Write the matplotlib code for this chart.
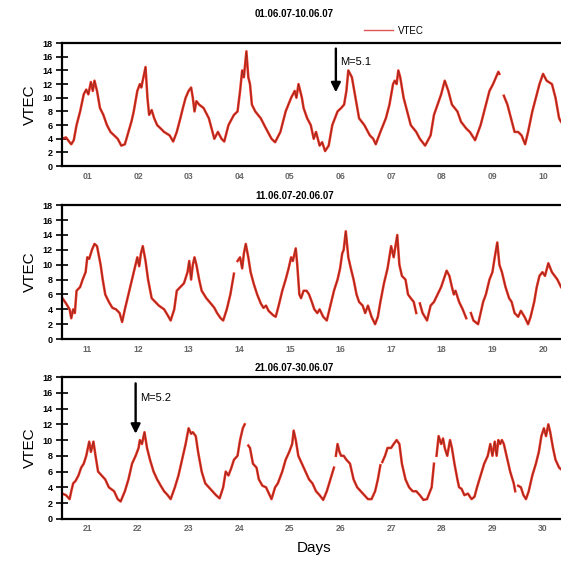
import numpy as np
import matplotlib
matplotlib.use("Agg")
import matplotlib.pyplot as plt

plt.rcParams['font.family'] = ['Liberation Sans', 'DejaVu Sans']

nan = np.nan

# hours since the start of each 10-day window, VTEC (TECU); nan = data gap
p1_hours = [0, 1.9, 3.6, 4.4, 5.6, 6.9, 8.6, 10.3, 11.5, 12.5, 13.7, 14.6, 15.4, 16.6, 18.0, 19.6,
            21.3, 23.0, 24.7, 26.4, 28.1, 29.8, 31.5, 32.9, 34.0, 35.7, 36.9, 37.6, 38.6, 39.6,
            40.5, 41.3, 42.5, 43.7, 45.1, 46.8, 48.4, 51.0, 52.7, 54.4, 56.1, 57.3, 58.6, 60.0,
            61.2, 62.0, 62.8, 63.7, 65.0, 67.1, 69.6, 71.3, 72.2, 73.9, 75.6, 76.9, 78.9, 81.5,
            83.2, 84.4, 85.4, 86.2, 87.4, 88.3, 89.1, 90.0, 91.6, 94.2, 96.7, 99.3, 101.0, 103.5,
            106.0, 108.6, 110.3, 111.1, 112.1, 113.7, 114.5, 116.2, 117.9, 119.3, 120.4, 122.1,
            123.3, 124.7, 126.4, 128.1, 130.6, 132.3, 133.7, 134.8, 135.7, 137.4, 139.1, 140.8,
            143.3, 145.9, 147.5, 148.7, 150.9, 153.5, 155.2, 156.9, 157.7, 158.6, 159.4, 160.3,
            161.9, 163.6, 165.3, 167.9, 169.6, 172.1, 174.7, 176.3, 178.0, 179.7, 181.4, 183.1,
            184.8, 187.4, 189.1, 191.6, 193.3, 195.8, 198.4, 200.1, 202.6, 204.3, 206.8, 207.3,
            207.8, 209.4, 211.1, 212.8, 214.5, 216.2, 217.8, 219.5, 220.9, 222.9, 224.6, 226.3,
            228.0, 229.7, 232.2, 233.9, 235.6, 236.5]
p1_vtec = [4.0, 4.2, 3.5, 3.2, 3.8, 6, 8, 10.5, 11.2, 10.5, 12.3, 11, 12.5, 11, 8.5, 7.5,
           6, 5, 4.5, 4, 3, 3.2, 5, 6.5, 8, 11, 12, 11.5, 13, 14.5,
           10, 7.5, 8.2, 7, 6, 5.5, 5, 4.5, 3.6, 5, 7, 8.5, 10, 11,
           11.5, 10, 8, 9.5, 9, 8.5, 7, 5, 4, 5, 4, 3.6, 6, 7.5,
           8, 11, 14, 13, 16.8, 13, 12, 9, 8, 7, 5.5, 4, 3.5, 5,
           8, 10, 11, 10, 12, 10, 8.5, 7, 6, 4, 5, 3,
           3.5, 2.2, 3, 6, 8, 8.5, 9, 11, 14, 13, 10, 7,
           6, 4.5, 4, 3.2, 5, 7, 9, 12, 12.5, 12, 14, 13,
           10, 8, 6, 5, 4, 3, 4.5, 7.5, 9, 10.5, 12.5, 11,
           9, 8, 6.5, 5.5, 5, 3.8, 6, 8, 11, 12, 13.8, 13.5,
           nan, 10.3, 9, 7, 5, 5, 4.5, 3.2, 5, 8, 10, 12,
           13.5, 12.5, 12, 10, 7, 6.5]

p2_hours = [0.2, 1.9, 3.6, 4.4, 5.3, 6.1, 6.9, 8.6, 9.8, 11.2, 12.0, 12.9, 14.2, 15.4, 16.6,
            18.3, 19.3, 20.5, 22.2, 23.9, 25.6, 27.3, 28.5, 29.8, 31.5, 33.2, 34.9, 35.7, 36.6,
            37.4, 38.3, 39.6, 40.8, 42.5, 44.2, 45.9, 48.4, 50.1, 51.5, 53.2, 54.4, 56.1, 57.8,
            59.5, 60.3, 61.2, 62.0, 62.8, 63.7, 65.0, 66.2, 68.4, 70.5, 72.2, 73.5, 75.2, 76.4,
            78.1, 79.8, 81.0, 81.5, 82.5, 83.2, 84.4, 85.4, 86.2, 87.1, 88.3, 89.4, 90.8, 92.5,
            94.2, 95.5, 96.7, 97.9, 100.1, 101.3, 102.7, 104.4, 106.0, 107.4, 108.6, 109.4,
            110.8, 111.5, 112.5, 113.3, 114.5, 115.9, 117.1, 118.4, 119.6, 121.0, 122.1, 123.8,
            125.5, 127.2, 128.9, 130.6, 131.8, 132.8, 133.5, 134.5, 135.7, 136.9, 138.2, 139.6,
            140.8, 142.5, 143.7, 145.0, 146.7, 148.4, 149.7, 150.9, 152.6, 154.3, 156.0, 157.2,
            158.9, 159.9, 161.1, 162.8, 164.0, 165.3, 166.7, 167.9, 168.8, 169.6, 170.9, 173.0,
            174.7, 176.3, 178.0, 179.7, 180.9, 182.3, 183.6, 184.8, 185.7, 186.5, 188.2, 189.9,
            191.6, 192.6, 193.8, 195.0, 197.2, 198.4, 199.6, 200.9, 202.6, 204.0, 205.1, 206.3,
            207.3, 208.5, 210.2, 211.9, 213.1, 214.5, 216.2, 217.5, 219.2, 220.9, 222.1, 223.8,
            225.0, 226.3, 227.7, 228.9, 230.5, 232.2, 234.8, 236.5]
p2_vtec = [5.5, 4.8, 4, 2.8, 4, 3.5, 6.5, 7, 8, 9, 11, 10.8, 12, 12.8, 12.5,
           10, 8, 6, 5, 4.2, 4, 3.5, 2.3, 4, 6, 8, 10, 11, 9.8,
           11.5, 12.5, 10.5, 8, 5.5, 5, 4.5, 4, 3.2, 2.5, 4, 6.5, 7, 7.5,
           9, 10.5, 8, 10, 11, 10, 8, 6.5, 5.5, 4.8, 4.2, 3.5, 2.8, 2.5,
           4, 6, 8, 8.8, nan, 10.5, 11, 9.5, 11.5, 12.8, 11, 9, 7.5, 6,
           4.8, 4.2, 4.5, 3.8, 3.2, 3, 4.5, 6.5, 8, 9.5, 11, 10.5,
           12.2, 10, 6, 5.5, 6.5, 6.5, 6, 5, 4, 3.5, 4, 3,
           2.5, 4.5, 6.5, 8, 9.5, 11.5, 12, 14.5, 11, 9.5, 8, 6,
           5, 4.5, 3.5, 4.5, 3, 2, 3, 5, 7.5, 9.5, 12.5, 11,
           14, 10, 8.5, 8, 6, 5.5, 5, 3.5, nan, 4.8, 3.5, 2.5,
           4.5, 5, 6, 7, 8, 9.2, 8.5, 7, 6, 6.5, 5, 4,
           2.8, nan, 3.5, 2.5, 2, 3.5, 5, 6, 8, 9, 11, 13,
           10, 9, 7, 5.5, 5, 3.5, 3, 3.8, 3, 2, 3, 5,
           7, 8.5, 9, 8.5, 10.2, 9, 8, 7]

p3_hours = [0.2, 1.9, 3.6, 4.4, 5.3, 6.4, 7.8, 9.1, 10.3, 11.5, 12.9, 13.7, 14.9, 15.9, 17.1,
            18.8, 20.5, 22.2, 24.7, 26.4, 27.8, 29.8, 31.5, 33.2, 34.9, 36.3, 36.9, 37.9, 39.1,
            40.3, 41.7, 43.4, 45.1, 46.8, 48.4, 50.1, 51.5, 53.5, 55.2, 56.9, 58.6, 60.0, 61.2,
            62.0, 63.4, 64.5, 66.2, 67.9, 69.6, 71.3, 73.0, 74.7, 76.4, 77.6, 78.9, 80.3, 81.5,
            83.2, 84.4, 85.7, 86.6, 87.5, 88.3, 89.1, 90.5, 92.2, 93.3, 95.0, 96.7, 98.4, 99.3,
            101.0, 102.3, 104.4, 106.0, 107.7, 109.1, 109.8, 110.8, 112.0, 113.7, 115.4, 117.1,
            118.7, 120.4, 122.1, 123.8, 125.5, 127.2, 128.9, 129.5, 129.8, 130.6, 131.5, 132.3,
            133.5, 134.8, 136.5, 138.2, 139.9, 141.6, 143.3, 145.0, 146.7, 148.4, 149.7, 150.9,
            151.4, 151.8, 153.1, 154.3, 156.0, 157.2, 158.6, 159.9, 161.1, 162.8, 164.5, 166.2,
            167.9, 169.6, 171.3, 173.0, 175.2, 176.3, 176.9, 177.5, 178.5, 179.7, 180.6, 181.4,
            182.6, 183.9, 184.8, 186.0, 187.4, 188.2, 189.4, 190.7, 192.4, 194.1, 195.5, 196.7,
            198.4, 200.1, 201.8, 203.0, 204.0, 205.1, 206.0, 206.8, 207.7, 208.5, 209.4, 210.7,
            212.4, 214.1, 214.8, 215.5, 216.2, 217.5, 218.7, 219.9, 221.2, 222.9, 224.6, 226.0,
            227.2, 228.4, 229.4, 230.5, 231.4, 232.7, 233.9, 235.6, 236.5]
p3_vtec = [3.2, 3, 2.5, 3.5, 4.5, 4.8, 5.5, 6.5, 7, 8, 9.8, 8.5, 9.8, 8, 6,
           5.5, 5, 4, 3.5, 2.5, 2.2, 3.5, 5, 7, 8, 9, 10, 9.5, 11,
           9, 7.5, 6, 5, 4.2, 3.5, 3, 2.5, 4, 5.5, 7.5, 9.5, 11.5, 10.8,
           11, 10.5, 8.5, 6, 4.5, 4, 3.5, 3, 2.6, 4, 6, 5.5, 6.5, 7.5,
           8, 10, 11.5, 12, nan, 9.3, 9, 7, 6.5, 5, 4.2, 4, 3, 2.5,
           4, 4.5, 6, 7.5, 8.5, 9.5, 11.2, 10, 8, 7, 6, 5,
           4.5, 3.5, 3, 2.4, 3.5, 5, 6.5, nan, 8, 9.5, 8.5, 8,
           8, 7.5, 7, 5, 4, 3.5, 3, 2.5, 2.5, 3.5, 5, 6.8,
           nan, 7.2, 8, 9, 9, 9.5, 10, 9.5, 7, 5, 4, 3.5,
           3.5, 3, 2.4, 2.5, 4, 7, nan, 8, 10.5, 9.5, 10.2, 9,
           8, 10, 9, 7, 5, 4, 3.8, 3, 3.2, 2.5, 2.8, 4,
           5.5, 7, 8, 9.5, 8, 9.8, 8, 10, 9.5, 10, 9.5, 8,
           6, 4.5, 3.5, nan, 4.2, 4, 3, 2.5, 3.5, 5.5, 7, 8.5,
           10.5, 11.5, 10.5, 12, 11, 9, 7.5, 6.5, 6.3]

titles = ["01.06.07-10.06.07", "11.06.07-20.06.07", "21.06.07-30.06.07"]
first_days = [1, 11, 21]
y_ticks = list(range(0, 19, 2))

# quake markers: (panel, hour, label)
events = [(0, 129.8, "M=5.1"), (2, 34.9, "M=5.2")]

fig = plt.figure(figsize=(5.61, 5.67), dpi=100)

# panels have slightly different heights in the original figure
boxes = [(0.1105, 0.707, 0.8895, 0.217),
         (0.1105, 0.402, 0.8895, 0.236),
         (0.1105, 0.085, 0.8895, 0.250)]
title_y = [0.975, 0.654, 0.351]

series = [(p1_hours, p1_vtec), (p2_hours, p2_vtec), (p3_hours, p3_vtec)]
axes = []
for i, (box, (hrs, vals)) in enumerate(zip(boxes, series)):
    ax = fig.add_axes(box)
    axes.append(ax)
    h = np.array(hrs, dtype=float)
    v = np.array(vals, dtype=float)
    ax.plot(h, v, color='#ee3322', lw=1.8, solid_joinstyle='round', label='VTEC')
    ax.plot(h, v, color='#8e2a22', lw=0.6, solid_joinstyle='round')
    ax.set_xlim(0, 236.5)
    ax.set_ylim(0, 18)
    ax.set_yticks(y_ticks)
    ax.set_yticklabels([str(t) for t in y_ticks], fontsize=6.5, fontweight='bold')
    ax.tick_params(axis='y', direction='inout', length=9, width=1.2, pad=2)
    day_pos = [12 + 24 * k for k in range(10)]
    ax.set_xticks(day_pos)
    ax.set_xticklabels([f"{first_days[i] + k:02d}" for k in range(10)],
                       fontsize=6.2, fontweight='bold', color='#666666')
    ax.tick_params(axis='x', length=0, pad=4)
    for side in ('left', 'top', 'bottom'):
        ax.spines[side].set_linewidth(1.6)
    ax.spines['right'].set_visible(False)
    ax.set_ylabel("VTEC", fontsize=11, labelpad=4)
    fig.text(0.525, title_y[i], titles[i], ha='center', va='center',
             fontsize=7, fontweight='bold')

for panel, hr, label in events:
    ax = axes[panel]
    top = 17.2
    ax.annotate('', xy=(hr, 10.8), xytext=(hr, top),
                arrowprops=dict(arrowstyle='-|>', color='black', lw=1.7,
                                mutation_scale=14, shrinkA=0, shrinkB=0))
    ax.text(hr + 2.2, 15.3, label, fontsize=8, ha='left', va='center')

axes[0].legend(loc='center left', bbox_to_anchor=(0.64, 0.946),
               bbox_transform=fig.transFigure, frameon=False, fontsize=7,
               handlelength=3.0, handletextpad=0.5, borderpad=0,
               handles=[plt.Line2D([], [], color='#e05555', lw=1.0)], labels=['VTEC'])

fig.text(0.56, 0.034, "Days", ha='center', va='center', fontsize=11)

fig.savefig("out.png", dpi=100)
